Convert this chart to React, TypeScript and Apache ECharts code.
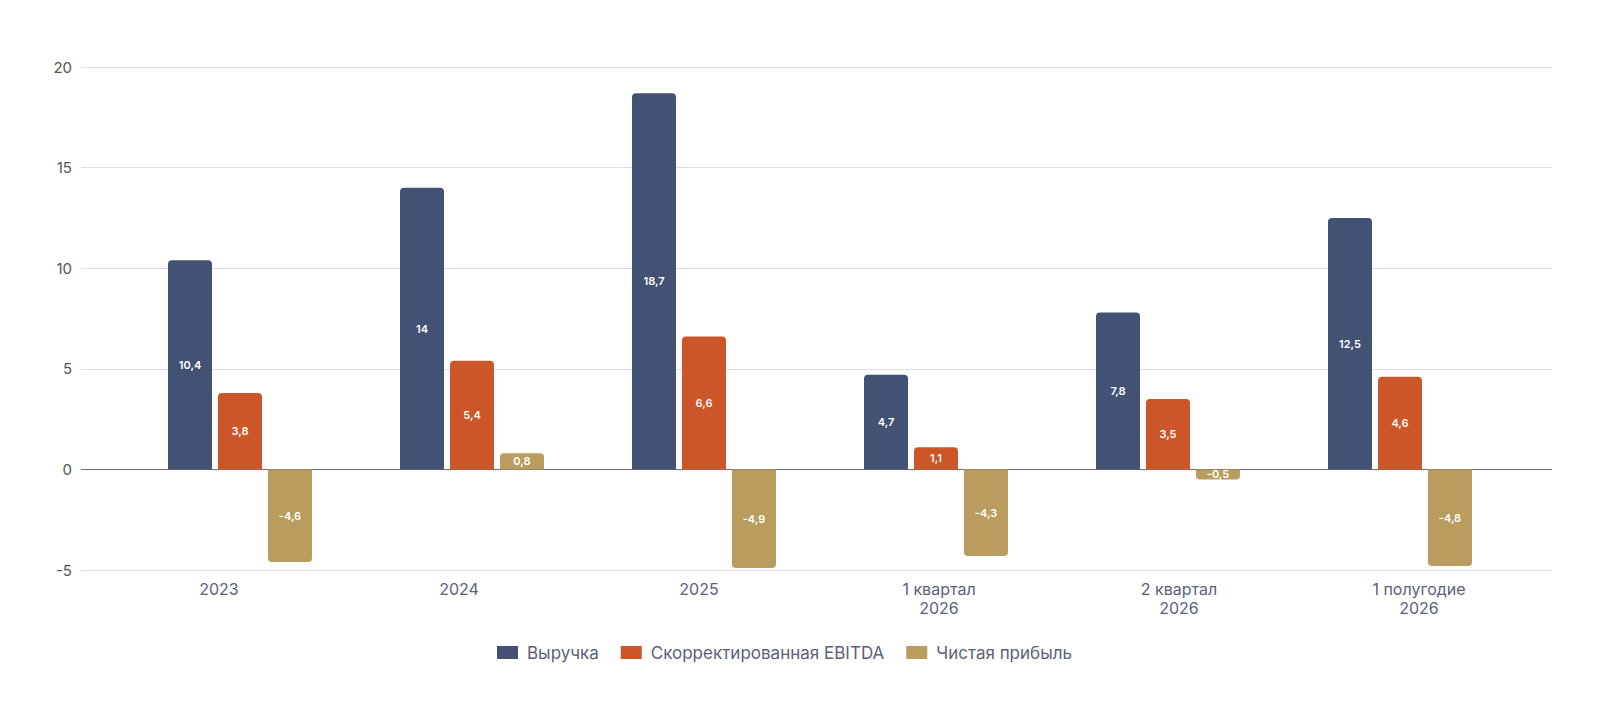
import React, { useEffect, useRef } from "react";
import * as echarts from "echarts";

const categories = ["2023", "2024", "2025", "1 квартал\n2026", "2 квартал\n2026", "1 полугодие\n2026"];
const seriesNames = ["Выручка", "Скорректированная EBITDA", "Чистая прибыль"];
const revenue = [10.4, 14, 18.7, 4.7, 7.8, 12.5];
const ebitda = [3.8, 5.4, 6.6, 1.1, 3.5, 4.6];
const netProfit = [-4.6, 0.8, -4.9, -4.3, -0.5, -4.8];
const colors = ["#435274", "#cc5627", "#b99c5e"];
const yTicks = { min: -5, max: 20, interval: 5 };

const FONT = "Inter, 'Noto Sans', sans-serif";

function toData(values: number[]) {
  return values.map((v) => ({
    value: v,
    itemStyle: { borderRadius: v >= 0 ? [4, 4, 0, 0] : [0, 0, 4, 4] },
  }));
}

export default function App() {
  const ref = useRef<HTMLDivElement>(null);
  useEffect(() => {
    if (!ref.current) return;
    const chart = echarts.init(ref.current, undefined, { renderer: "svg" });
    const allSeries = [revenue, ebitda, netProfit];
    const hiddenY = (gi: number) => ({
      gridIndex: gi,
      type: "value",
      min: yTicks.min,
      max: yTicks.max,
      interval: yTicks.interval,
      show: false,
      splitLine: { show: false },
    });
    chart.setOption({
      animation: false,
      backgroundColor: "#ffffff",
      color: colors,
      legend: {
        left: 492,
        top: 639,
        itemWidth: 21,
        itemHeight: 13,
        itemGap: 22,
        icon: "rect",
        textStyle: { fontFamily: FONT, fontSize: 17, color: "#5b6177", padding: [0, 0, 0, 4] },
        data: seriesNames,
      },
      grid: [
        { left: 81, right: 48, top: 67, bottom: 142 },
        { left: 124, right: 84, top: 67, bottom: 142 },
        { left: 99, right: 61, top: 67, bottom: 142 },
      ],
      xAxis: [
        { gridIndex: 0, type: "value", show: false, min: 0, max: 1 },
        {
          gridIndex: 1,
          type: "category",
          data: categories,
          axisLine: { show: false },
          axisTick: { show: false },
          axisLabel: { show: false },
        },
        {
          gridIndex: 2,
          type: "category",
          data: categories,
          axisLine: { show: false },
          axisTick: { show: false },
          axisLabel: {
            fontFamily: FONT,
            fontSize: 16,
            color: "#5b6177",
            margin: 9,
            lineHeight: 19,
          },
        },
      ],
      yAxis: [
        {
          gridIndex: 0,
          type: "value",
          min: yTicks.min,
          max: yTicks.max,
          interval: yTicks.interval,
          axisLine: { show: false },
          axisTick: { show: false },
          axisLabel: { fontFamily: FONT, fontSize: 15, color: "#555", margin: 9 },
          splitLine: {
            lineStyle: {
              color: ["#dcdcdc", "#6e6e6e", "#dcdcdc", "#dcdcdc", "#dcdcdc", "#dcdcdc"],
              width: 1.2,
            },
          },
        },
        hiddenY(1),
        hiddenY(2),
      ],
      series: allSeries.map((vals, i) => ({
        name: seriesNames[i],
        type: "bar",
        xAxisIndex: 1,
        yAxisIndex: 1,
        barWidth: 44,
        barGap: "13.6%",
        data: toData(vals),
        label: {
          show: true,
          position: "inside",
          color: "#ffffff",
          fontFamily: FONT,
          fontSize: 11,
          fontWeight: 600,
          formatter: (p: any) => String(p.value).replace(".", ","),
        },
      })),
    });
    return () => chart.dispose();
  }, []);
  return (
    <div
      ref={ref}
      style={{ position: "absolute", left: 0, top: 0, width: 1600, height: 712 }}
    />
  );
}
